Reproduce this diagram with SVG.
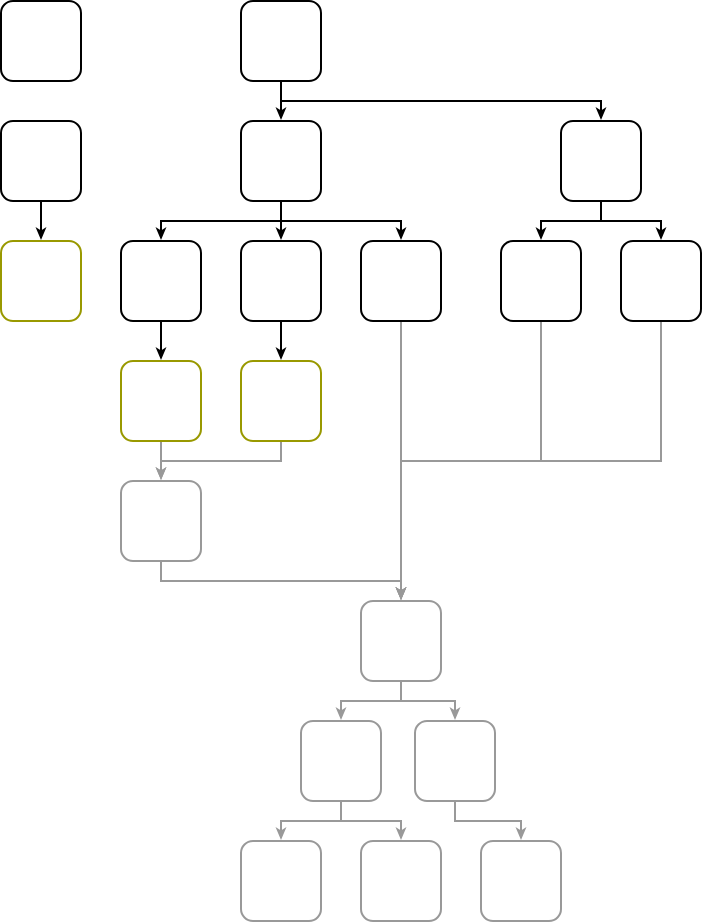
<svg xmlns="http://www.w3.org/2000/svg" width="704" height="923" viewBox="0 0 704 923">
<style>
.n{fill:#fff;stroke-width:2}
.k{stroke:#000}
.o{stroke:#999900}
.g{stroke:#999999}
.e{fill:none;stroke-width:2}
.ek{stroke:#000;marker-end:url(#ak)}
.eg{stroke:#999999;marker-end:url(#ag)}
</style>
<defs>
<marker id="ak" markerUnits="userSpaceOnUse" viewBox="0 0 13 12" markerWidth="13" markerHeight="12" refX="10" refY="6" orient="auto"><path d="M0,0.5 L13,6 L0,11.5 L3.5,6 z" fill="#000"/></marker>
<marker id="ag" markerUnits="userSpaceOnUse" viewBox="0 0 13 12" markerWidth="13" markerHeight="12" refX="10" refY="6" orient="auto"><path d="M0,0.5 L13,6 L0,11.5 L3.5,6 z" fill="#999999"/></marker>
</defs>
<g id="connectors">
<path class="e ek" d="M281,81 V117"/>
<path class="e ek" d="M281,81 V101 H601 V117"/>
<path class="e ek" d="M41,201 V237"/>
<path class="e ek" d="M281,201 V221 H161 V237"/>
<path class="e ek" d="M281,201 V237"/>
<path class="e ek" d="M281,201 V221 H401 V237"/>
<path class="e ek" d="M601,201 V221 H541 V237"/>
<path class="e ek" d="M601,201 V221 H661 V237"/>
<path class="e ek" d="M161,321 V357"/>
<path class="e ek" d="M281,321 V357"/>
<path class="e eg" d="M161,441 V477"/>
<path class="e eg" d="M281,441 V461 H161 V477"/>
<path class="e eg" d="M401,321 V597"/>
<path class="e eg" d="M541,321 V461 H401 V597"/>
<path class="e eg" d="M661,321 V461 H401 V597"/>
<path class="e eg" d="M161,561 V581 H401 V597"/>
<path class="e eg" d="M401,681 V701 H341 V717"/>
<path class="e eg" d="M401,681 V701 H455 V717"/>
<path class="e eg" d="M341,801 V821 H281 V837"/>
<path class="e eg" d="M341,801 V821 H401 V837"/>
<path class="e eg" d="M455,801 V821 H521 V837"/>
</g>
<g id="A"><rect class="n k" x="1" y="1" width="80" height="80" rx="12"/></g>
<g id="B"><rect class="n k" x="241" y="1" width="80" height="80" rx="12"/></g>
<g id="C"><rect class="n k" x="1" y="121" width="80" height="80" rx="12"/></g>
<g id="D"><rect class="n k" x="241" y="121" width="80" height="80" rx="12"/></g>
<g id="E"><rect class="n k" x="561" y="121" width="80" height="80" rx="12"/></g>
<g id="F"><rect class="n o" x="1" y="241" width="80" height="80" rx="12"/></g>
<g id="G"><rect class="n k" x="121" y="241" width="80" height="80" rx="12"/></g>
<g id="H"><rect class="n k" x="241" y="241" width="80" height="80" rx="12"/></g>
<g id="I"><rect class="n k" x="361" y="241" width="80" height="80" rx="12"/></g>
<g id="J"><rect class="n k" x="501" y="241" width="80" height="80" rx="12"/></g>
<g id="K"><rect class="n k" x="621" y="241" width="80" height="80" rx="12"/></g>
<g id="L"><rect class="n o" x="121" y="361" width="80" height="80" rx="12"/></g>
<g id="M"><rect class="n o" x="241" y="361" width="80" height="80" rx="12"/></g>
<g id="N"><rect class="n g" x="121" y="481" width="80" height="80" rx="12"/></g>
<g id="O"><rect class="n g" x="361" y="601" width="80" height="80" rx="12"/></g>
<g id="P"><rect class="n g" x="301" y="721" width="80" height="80" rx="12"/></g>
<g id="Q"><rect class="n g" x="415" y="721" width="80" height="80" rx="12"/></g>
<g id="R"><rect class="n g" x="241" y="841" width="80" height="80" rx="12"/></g>
<g id="S"><rect class="n g" x="361" y="841" width="80" height="80" rx="12"/></g>
<g id="T"><rect class="n g" x="481" y="841" width="80" height="80" rx="12"/></g>
</svg>
